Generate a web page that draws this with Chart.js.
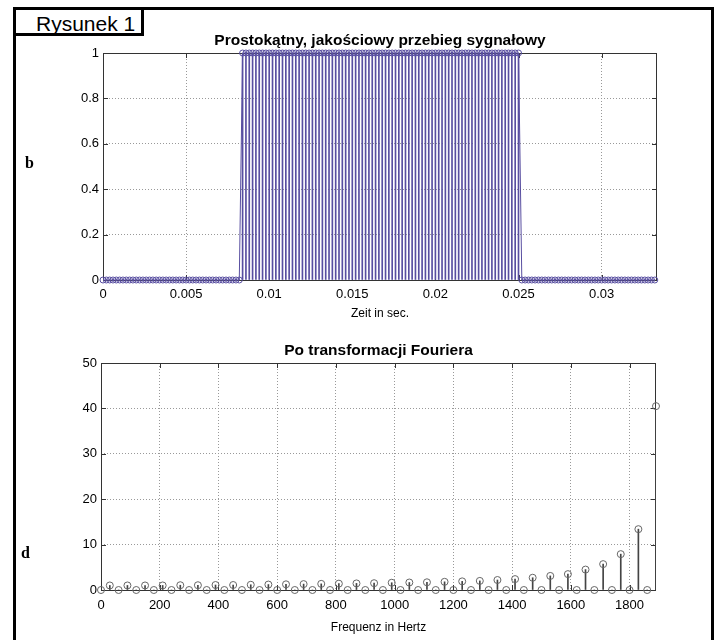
<!DOCTYPE html>
<html>
<head>
<meta charset="utf-8">
<script src="https://cdn.jsdelivr.net/npm/chart.js@4.4.0/dist/chart.umd.min.js"></script>
<style>
  body { margin: 0; background: #fff; }
  #page { position: relative; width: 720px; height: 640px; overflow: hidden; font-family: "Liberation Sans", Arial, sans-serif; }
  #frame { position: absolute; left: 13px; top: 7px; width: 701px; height: 640px; box-sizing: border-box; border: 3px solid #000; border-bottom: none; }
  #tag { position: absolute; left: 13px; top: 7px; width: 131px; height: 29px; box-sizing: border-box; border: 3px solid #000; background: #fff; }
  #tagText { position: absolute; left: 36px; top: 12px; font-size: 21px; line-height: 24px; color: #000; }
  .side { position: absolute; font-family: "Liberation Serif", "Times New Roman", serif; font-weight: bold; font-size: 16px; line-height: 16px; color: #000; }
  canvas { position: absolute; left: 0; }
</style>
</head>
<body>
<div id="page">
  <canvas id="timeChart" width="720" height="330" style="top:0"></canvas>
  <canvas id="freqChart" width="720" height="310" style="top:330px"></canvas>
  <div id="frame"></div>
  <div id="tag"></div>
  <div id="tagText">Rysunek 1</div>
  <div class="side" style="left:25px; top:155px">b</div>
  <div class="side" style="left:21px; top:545px">d</div>
</div>
<script>
// sampling step of the time signal (s)
const dt = 0.0002;

// rectangular signal, one value per sample
const signal = [
  0,0,0,0,0,0,0,0,0,0, 0,0,0,0,0,0,0,0,0,0,
  0,0,0,0,0,0,0,0,0,0, 0,0,0,0,0,0,0,0,0,0,
  0,0,
  1,1,1,1,1,1,1,1,1,1, 1,1,1,1,1,1,1,1,1,1,
  1,1,1,1,1,1,1,1,1,1, 1,1,1,1,1,1,1,1,1,1,
  1,1,1,1,1,1,1,1,1,1, 1,1,1,1,1,1,1,1,1,1,
  1,1,1,1,1,1,1,1,1,1, 1,1,1,1,1,1,1,1,1,1,
  1,1,1,1,
  0,0,0,0,0,0,0,0,0,0, 0,0,0,0,0,0,0,0,0,0,
  0,0,0,0,0,0,0,0,0,0, 0,0,0,0,0,0,0,0,0,0,
  0
];

// spectrum
const freqs = [
  0, 30, 60, 90, 120, 150, 180, 210, 240, 270, 300, 330, 360, 390, 420, 450,
  480, 510, 540, 570, 600, 630, 660, 690, 720, 750, 780, 810, 840, 870, 900, 930,
  960, 990, 1020, 1050, 1080, 1110, 1140, 1170, 1200, 1230, 1260, 1290, 1320, 1350, 1380, 1410,
  1440, 1470, 1500, 1530, 1560, 1590, 1620, 1650, 1680, 1710, 1740, 1770, 1800, 1830, 1860, 1890
];
const magnitude = [
  0, 1.0, 0, 1.0, 0, 1.0, 0, 1.0, 0, 1.05, 0, 1.05, 0, 1.1, 0, 1.1,
  0, 1.15, 0, 1.2, 0, 1.25, 0, 1.3, 0, 1.35, 0, 1.4, 0, 1.45, 0, 1.5,
  0, 1.6, 0, 1.65, 0, 1.7, 0, 1.8, 0, 1.9, 0, 2.0, 0, 2.2, 0, 2.4,
  0, 2.7, 0, 3.1, 0, 3.5, 0, 4.5, 0, 5.7, 0, 7.9, 0, 13.4, 0, 40.5
];

const timeTicks = [0, 0.005, 0.01, 0.015, 0.02, 0.025, 0.03];
const freqTicks = [0, 200, 400, 600, 800, 1000, 1200, 1400, 1600, 1800];

const FONT = '"Liberation Sans", Arial, sans-serif';
const purple = 'rgb(88,78,160)';

const timePoints = signal.map((v, i) => ({ x: i * dt, y: v }));
const freqPoints = freqs.map((f, i) => ({ x: f, y: magnitude[i] }));

// matlab style box with inward ticks
const boxPlugin = {
  id: 'box',
  beforeDatasetsDraw(chart) {
    const { ctx, chartArea: a, scales } = chart;
    ctx.save();
    ctx.strokeStyle = '#333';
    ctx.lineWidth = 1;
    ctx.strokeRect(a.left + 0.5, a.top + 0.5, a.right - a.left - 1, a.bottom - a.top);
    ctx.beginPath();
    scales.x.ticks.forEach(t => {
      const px = Math.round(scales.x.getPixelForValue(t.value)) + 0.5;
      ctx.moveTo(px, a.bottom); ctx.lineTo(px, a.bottom - 5);
      ctx.moveTo(px, a.top); ctx.lineTo(px, a.top + 5);
    });
    scales.y.ticks.forEach(t => {
      const py = Math.round(scales.y.getPixelForValue(t.value)) + 0.5;
      ctx.moveTo(a.left, py); ctx.lineTo(a.left + 5, py);
      ctx.moveTo(a.right, py); ctx.lineTo(a.right - 5, py);
    });
    ctx.stroke();
    ctx.restore();
  }
};

function axisX(min, max, step, title, pad, titlePad, fmt) {
  return {
    type: 'linear', min: min, max: max, offset: false,
    grid: { color: '#999', drawTicks: false, offset: false },
    border: { display: false, dash: [1, 2] },
    ticks: { stepSize: step, includeBounds: false, padding: pad, color: '#000', font: { family: FONT, size: 13 }, callback: fmt, maxRotation: 0 },
    title: { display: true, text: title, color: '#000', font: { family: FONT, size: 12 }, padding: { top: 0, bottom: titlePad } },
    afterFit: s => { s.height = 50; }
  };
}

function axisY(max, step, width) {
  return {
    min: 0, max: max,
    grid: { color: '#999', drawTicks: false },
    border: { display: false, dash: [1, 2] },
    ticks: { stepSize: step, padding: 4, color: '#000', font: { family: FONT, size: 13 }, callback: v => String(+v.toFixed(4)) },
    afterFit: s => { s.width = width; }
  };
}

function titleOpts(text) {
  return { display: true, text: text, color: '#000', fullSize: false, font: { family: FONT, size: 15.5, weight: 'bold' }, padding: { top: 6, bottom: 3 } };
}

new Chart(document.getElementById('timeChart'), {
  type: 'bar',
  data: {
    datasets: [{
      type: 'line',
      data: timePoints,
      borderColor: purple,
      borderWidth: 1,
      pointRadius: 3,
      pointBorderWidth: 1,
      pointBorderColor: purple,
      pointBackgroundColor: 'rgba(0,0,0,0)',
      clip: false,
      order: 0
    }, {
      data: timePoints,
      backgroundColor: purple,
      barThickness: 1,
      order: 1
    }]
  },
  options: {
    responsive: false,
    animation: false,
    layout: { padding: { left: 0, right: 63, top: 25.4, bottom: 0 } },
    plugins: { legend: { display: false }, tooltip: { enabled: false }, title: titleOpts('Prostokątny, jakościowy przebieg sygnałowy') },
    scales: {
      x: axisX(0, 1 / 30, 0.005, 'Zeit in sec.', 7, 9, v => String(+v.toFixed(4))),
      y: axisY(1, 0.2, 103)
    }
  },
  plugins: [boxPlugin]
});

new Chart(document.getElementById('freqChart'), {
  type: 'bar',
  data: {
    datasets: [{
      type: 'line',
      data: freqPoints,
      showLine: false,
      pointRadius: 3.5,
      pointBorderWidth: 1,
      pointBorderColor: '#666',
      pointBackgroundColor: 'rgba(0,0,0,0)',
      clip: false,
      order: 0
    }, {
      data: freqPoints,
      backgroundColor: '#444',
      barThickness: 1,
      order: 1
    }]
  },
  options: {
    responsive: false,
    animation: false,
    layout: { padding: { left: 0, right: 64, top: 5.4, bottom: 0 } },
    plugins: { legend: { display: false }, tooltip: { enabled: false }, title: titleOpts('Po transformacji Fouriera') },
    scales: {
      x: axisX(0, 1890, 200, 'Frequenz in Hertz', 8, 5, v => String(v)),
      y: axisY(50, 10, 101)
    }
  },
  plugins: [boxPlugin]
});
</script>
</body>
</html>
